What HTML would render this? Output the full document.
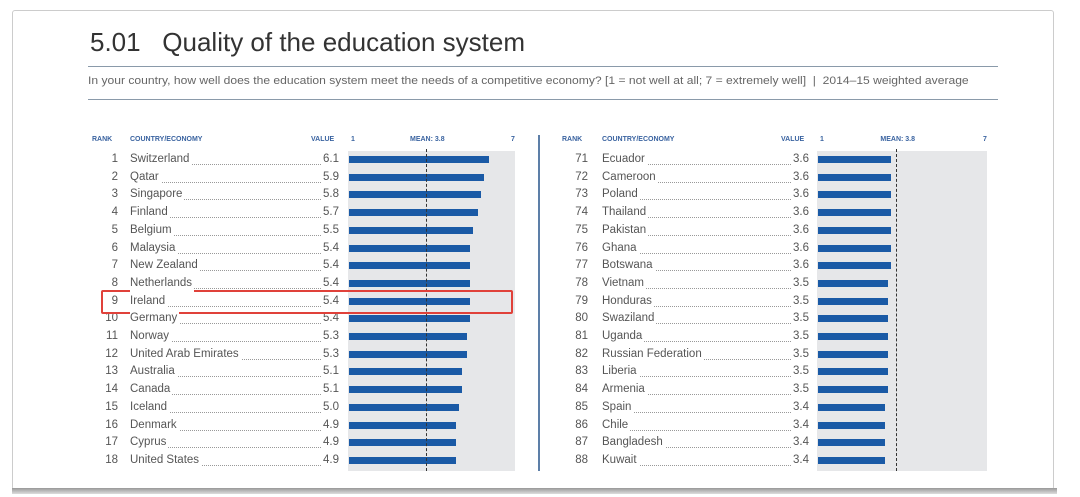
<!DOCTYPE html>
<html><head><meta charset="utf-8"><style>
body{margin:0;width:1080px;height:497px;background:#fff;position:relative;overflow:hidden;font-family:"Liberation Sans",sans-serif}
.card{position:absolute;left:12px;top:10px;width:1040px;height:478px;border:1px solid #ccc;border-radius:3px;background:#fff}
.shadow{position:absolute;left:12px;top:488px;width:1045px;height:6px;background:linear-gradient(#999,#ddd)}
.t{position:absolute;white-space:nowrap}
.hd{position:absolute;font-size:7px;font-weight:bold;color:#3a63a0;top:136px}
.row{position:absolute;font-size:11.5px;color:#555;height:17px;line-height:17px}
.bar{position:absolute;height:7px;background:#1a5aa6}
.dots{position:absolute;border-bottom:1px dotted #999;height:0}
</style></head><body>
<div class="card"></div><div class="shadow"></div>
<div class="t" style="left:90px;top:27px;font-size:26px;color:#333">5.01&nbsp;&nbsp;&nbsp;Quality of the education system</div>
<div style="position:absolute;left:88px;top:66px;width:910px;height:1px;background:#8a9aaa"></div>
<div class="t" style="left:88px;top:75px;font-size:11px;color:#666;transform:scaleX(1.1);transform-origin:left">In your country, how well does the education system meet the needs of a competitive economy? [1 = not well at all; 7 = extremely well] &nbsp;|&nbsp; 2014–15 weighted average</div>
<div style="position:absolute;left:88px;top:99px;width:910px;height:1px;background:#8a9aaa"></div>
<div style="position:absolute;left:538px;top:135px;width:2px;height:336px;background:#5d7fa8"></div>
<div id="c"></div>
<div style="position:absolute;left:101px;top:290px;width:408px;height:20px;border:2px solid #e0413a;border-radius:2px"></div>
<script>
const L=[["1","Switzerland",6.1],["2","Qatar",5.9],["3","Singapore",5.8],["4","Finland",5.7],["5","Belgium",5.5],["6","Malaysia",5.4],["7","New Zealand",5.4],["8","Netherlands",5.4],["9","Ireland",5.4],["10","Germany",5.4],["11","Norway",5.3],["12","United Arab Emirates",5.3],["13","Australia",5.1],["14","Canada",5.1],["15","Iceland",5.0],["16","Denmark",4.9],["17","Cyprus",4.9],["18","United States",4.9]];
const R=[["71","Ecuador",3.6],["72","Cameroon",3.6],["73","Poland",3.6],["74","Thailand",3.6],["75","Pakistan",3.6],["76","Ghana",3.6],["77","Botswana",3.6],["78","Vietnam",3.5],["79","Honduras",3.5],["80","Swaziland",3.5],["81","Uganda",3.5],["82","Russian Federation",3.5],["83","Liberia",3.5],["84","Armenia",3.5],["85","Spain",3.4],["86","Chile",3.4],["87","Bangladesh",3.4],["88","Kuwait",3.4]];
let h="";
function panel(d,rk,cx,vr,bx,sc){
 h+=`<div class="hd" style="left:${rk-26}px">RANK</div><div class="hd" style="left:${cx}px">COUNTRY/ECONOMY</div><div class="hd" style="left:${vr-28}px">VALUE</div><div class="hd" style="left:${bx+2}px">1</div><div class="hd" style="left:${bx+2.8*sc-16}px">MEAN: 3.8</div><div class="hd" style="left:${bx+6*sc-3}px">7</div>`;
 h+=`<div style="position:absolute;left:${bx-1}px;top:151px;width:${6*sc+2}px;height:320px;background:#e6e7e9"></div>`;
 d.forEach((r,i)=>{const y=151+i*17.7;
  h+=`<div class="row" style="left:${rk-30}px;top:${y}px;width:30px;text-align:right">${r[0]}</div>`;
  h+=`<div class="row" style="left:${cx}px;top:${y}px;background:#fff;padding-right:2px;z-index:2">${r[1]}</div>`;
  h+=`<div class="dots" style="left:${cx}px;top:${y+13}px;width:${vr-cx-18}px"></div>`;
  h+=`<div class="row" style="left:${vr-30}px;top:${y}px;width:30px;text-align:right">${r[2].toFixed(1)}</div>`;
  h+=`<div class="bar" style="left:${bx}px;top:${y+5}px;width:${(r[2]-1)*sc}px"></div>`;
 });
 h+=`<div style="position:absolute;left:${bx+2.8*sc}px;top:149px;height:322px;border-left:1px dashed #333"></div>`;
}
panel(L,118,130,339,349,27.5);
panel(R,588,602,809,818,28);
document.getElementById("c").innerHTML=h;
</script>
</body></html>
